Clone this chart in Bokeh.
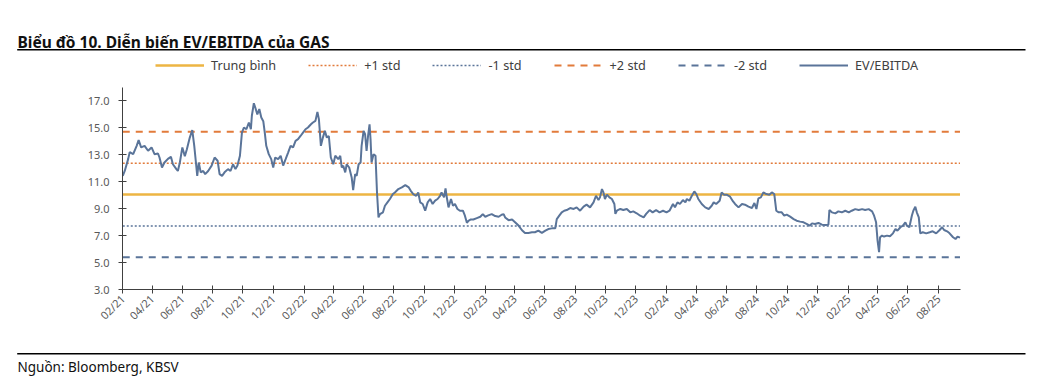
import math
import pandas as pd
from bokeh.plotting import figure
from bokeh.layouts import column
from bokeh.models import (Range1d, FixedTicker, NumeralTickFormatter, DatetimeTickFormatter,
                          Legend, LegendItem, Label, BoxAnnotation, ColumnDataSource)
from bokeh.embed import file_html
from bokeh.resources import INLINE

TITLE = "Biểu đồ 10. Diễn biến EV/EBITDA của GAS"
SOURCE = "Nguồn: Bloomberg, KBSV"

dates = [
    "2021-02-01", "2021-02-05", "2021-02-12", "2021-02-15", "2021-02-22", "2021-03-01", "2021-03-05",
    "2021-03-10", "2021-03-17", "2021-03-24", "2021-03-31", "2021-04-06", "2021-04-13", "2021-04-16",
    "2021-04-21", "2021-04-26", "2021-05-03", "2021-05-09", "2021-05-13", "2021-05-20", "2021-05-23",
    "2021-05-27", "2021-06-01", "2021-06-06", "2021-06-10", "2021-06-16", "2021-06-21", "2021-06-25",
    "2021-06-28", "2021-07-01", "2021-07-04", "2021-07-08", "2021-07-13", "2021-07-17", "2021-07-23",
    "2021-07-30", "2021-08-05", "2021-08-11", "2021-08-15", "2021-08-20", "2021-08-25", "2021-09-01",
    "2021-09-06", "2021-09-11", "2021-09-16", "2021-09-20", "2021-09-25", "2021-09-29", "2021-10-03",
    "2021-10-08", "2021-10-13", "2021-10-17", "2021-10-19", "2021-10-23", "2021-10-26", "2021-10-30",
    "2021-11-03", "2021-11-07", "2021-11-11", "2021-11-14", "2021-11-17", "2021-11-22", "2021-11-27",
    "2021-12-01", "2021-12-05", "2021-12-11", "2021-12-16", "2021-12-21", "2021-12-26", "2021-12-31",
    "2022-01-05", "2022-01-10", "2022-01-15", "2022-01-20", "2022-01-25", "2022-01-30", "2022-02-04",
    "2022-02-09", "2022-02-15", "2022-02-19", "2022-02-24", "2022-02-28", "2022-03-03", "2022-03-07",
    "2022-03-11", "2022-03-15", "2022-03-19", "2022-03-23", "2022-03-27", "2022-04-01", "2022-04-05",
    "2022-04-11", "2022-04-15", "2022-04-18", "2022-04-21", "2022-04-25", "2022-04-28", "2022-05-03",
    "2022-05-08", "2022-05-11", "2022-05-15", "2022-05-18", "2022-05-22", "2022-05-26", "2022-05-28",
    "2022-06-01", "2022-06-04", "2022-06-07", "2022-06-10", "2022-06-13", "2022-06-15", "2022-06-17",
    "2022-06-21", "2022-06-25", "2022-06-28", "2022-07-01", "2022-07-04", "2022-07-10", "2022-07-14",
    "2022-07-19", "2022-07-24", "2022-07-30", "2022-08-03", "2022-08-10", "2022-08-17", "2022-08-24",
    "2022-08-31", "2022-09-04", "2022-09-09", "2022-09-15", "2022-09-19", "2022-09-23", "2022-09-28",
    "2022-10-03", "2022-10-08", "2022-10-13", "2022-10-18", "2022-10-23", "2022-10-28", "2022-11-02",
    "2022-11-05", "2022-11-10", "2022-11-13", "2022-11-15", "2022-11-19", "2022-11-24", "2022-11-28",
    "2022-12-02", "2022-12-07", "2022-12-12", "2022-12-18", "2022-12-22", "2022-12-26", "2022-12-29",
    "2023-01-03", "2023-01-08", "2023-01-15", "2023-01-22", "2023-01-27", "2023-02-01", "2023-02-07",
    "2023-02-14", "2023-02-21", "2023-02-28", "2023-03-06", "2023-03-10", "2023-03-13", "2023-03-20",
    "2023-03-27", "2023-04-02", "2023-04-09", "2023-04-16", "2023-04-22", "2023-04-29", "2023-05-06",
    "2023-05-12", "2023-05-19", "2023-05-26", "2023-06-02", "2023-06-08", "2023-06-15", "2023-06-22",
    "2023-06-25", "2023-06-30", "2023-07-05", "2023-07-10", "2023-07-15", "2023-07-22", "2023-07-29",
    "2023-08-04", "2023-08-11", "2023-08-18", "2023-08-24", "2023-08-31", "2023-09-07", "2023-09-12",
    "2023-09-17", "2023-09-20", "2023-09-24", "2023-09-27", "2023-09-30", "2023-10-04", "2023-10-09",
    "2023-10-14", "2023-10-19", "2023-10-21", "2023-10-24", "2023-10-31", "2023-11-06", "2023-11-13",
    "2023-11-20", "2023-11-26", "2023-12-03", "2023-12-10", "2023-12-17", "2023-12-22", "2023-12-29",
    "2024-01-04", "2024-01-11", "2024-01-18", "2024-01-25", "2024-02-01", "2024-02-07", "2024-02-14",
    "2024-02-18", "2024-02-23", "2024-02-28", "2024-03-05", "2024-03-10", "2024-03-13", "2024-03-18",
    "2024-03-23", "2024-03-28", "2024-04-01", "2024-04-05", "2024-04-12", "2024-04-19", "2024-04-26",
    "2024-05-02", "2024-05-06", "2024-05-11", "2024-05-18", "2024-05-22", "2024-05-27", "2024-06-01",
    "2024-06-08", "2024-06-14", "2024-06-18", "2024-06-25", "2024-07-02", "2024-07-08", "2024-07-15",
    "2024-07-22", "2024-07-27", "2024-07-31", "2024-08-04", "2024-08-09", "2024-08-14", "2024-08-20",
    "2024-08-26", "2024-08-31", "2024-09-05", "2024-09-09", "2024-09-14", "2024-09-20", "2024-09-25",
    "2024-09-30", "2024-10-07", "2024-10-14", "2024-10-20", "2024-10-27", "2024-11-03", "2024-11-10",
    "2024-11-15", "2024-11-20", "2024-11-26", "2024-12-03", "2024-12-10", "2024-12-17", "2024-12-23",
    "2024-12-25", "2024-12-30", "2025-01-06", "2025-01-12", "2025-01-19", "2025-01-26", "2025-02-02",
    "2025-02-08", "2025-02-15", "2025-02-22", "2025-03-01", "2025-03-07", "2025-03-14", "2025-03-21",
    "2025-03-25", "2025-03-29", "2025-04-01", "2025-04-04", "2025-04-06", "2025-04-10", "2025-04-14",
    "2025-04-20", "2025-04-26", "2025-05-02", "2025-05-07", "2025-05-11", "2025-05-17", "2025-05-22",
    "2025-05-27", "2025-05-30", "2025-06-04", "2025-06-09", "2025-06-12", "2025-06-16", "2025-06-19",
    "2025-06-23", "2025-06-26", "2025-07-01", "2025-07-08", "2025-07-15", "2025-07-21", "2025-07-28",
    "2025-08-04", "2025-08-09", "2025-08-13", "2025-08-19", "2025-08-24", "2025-08-31", "2025-09-05",
    "2025-09-09", "2025-09-14",
]

ev_ebitda = [
    11.44, 11.8, 12.7, 13.2, 13.05, 13.67, 14.1,
    13.55, 13.67, 13.3, 13.55, 13.05, 13.1, 12.8,
    12.06, 12.43, 12.7, 12.85, 12.3, 11.94, 11.8,
    12.43, 13.55, 12.9, 13.4, 14.28, 14.83, 13.67,
    12.56, 11.44, 12.43, 11.7, 11.8, 11.57, 11.8,
    12.2, 12.8, 12.56, 11.57, 11.44, 11.7, 11.94,
    11.8, 12.3, 11.94, 12.2, 12.93, 14.65, 15.03,
    14.9, 15.4, 14.9, 15.9, 16.83, 16.5, 16.0,
    16.4, 15.77, 15.5, 14.65, 13.67, 13.05, 12.68,
    12.06, 12.8, 12.68, 12.93, 12.2, 12.68, 13.17,
    13.67, 13.55, 14.04, 14.16, 14.4, 14.65, 14.9,
    15.03, 15.27, 15.4, 15.52, 16.19, 15.64, 13.67,
    14.28, 14.78, 14.28, 14.4, 12.8, 12.3, 12.93,
    12.68, 12.93, 12.06, 12.19, 11.7, 12.3, 12.06,
    11.32, 10.38, 11.57, 11.44, 12.3, 12.43, 13.67,
    14.78, 14.53, 13.3, 14.4, 15.27, 14.16, 12.43,
    13.05, 12.93, 10.2, 8.36, 8.6, 8.73, 9.22,
    9.47, 9.72, 10.09, 10.2, 10.46, 10.58, 10.75,
    10.58, 10.33, 10.09, 9.96, 10.2, 9.47, 9.35,
    8.85, 9.47, 9.72, 9.35, 9.6, 9.72, 9.96,
    10.2, 9.84, 10.5, 9.96, 9.1, 9.72, 9.22,
    9.35, 8.98, 8.85, 8.85, 8.48, 7.95, 8.1,
    8.2, 8.2, 8.3, 8.4, 8.6, 8.4, 8.5,
    8.6, 8.45, 8.4, 8.55, 8.6, 8.35, 8.15,
    8.2, 8.0, 7.75, 7.4, 7.2, 7.2, 7.25,
    7.25, 7.37, 7.2, 7.37, 7.49, 7.54, 7.54,
    8.23, 8.48, 8.73, 8.85, 8.9, 9.05, 8.98,
    9.1, 8.85, 9.15, 9.3, 9.1, 9.47, 9.96,
    9.64, 9.84, 10.46, 10.21, 9.72, 10.04, 9.84,
    9.72, 9.35, 8.61, 8.85, 8.98, 8.9, 8.98,
    8.73, 8.8, 8.66, 8.48, 8.36, 8.61, 8.9,
    8.73, 8.9, 8.73, 8.85, 8.73, 8.85, 9.35,
    9.1, 9.47, 9.35, 9.64, 9.47, 9.72, 9.59,
    9.96, 10.28, 10.09, 9.72, 9.35, 9.1, 8.98,
    9.22, 9.47, 9.35, 9.59, 10.21, 10.04, 10.04,
    9.89, 9.54, 9.35, 9.1, 9.35, 9.3, 9.15,
    9.05, 9.42, 8.98, 9.77, 9.84, 10.21, 10.09,
    10.04, 10.21, 10.09, 8.85, 8.73, 8.73, 8.48,
    8.56, 8.41, 8.23, 8.11, 8.04, 7.99, 7.86,
    7.74, 7.91, 7.86, 7.94, 7.81, 7.79, 7.81,
    8.9, 8.73, 8.65, 8.8, 8.73, 8.85, 8.73,
    8.85, 8.97, 8.9, 8.97, 8.9, 8.97, 8.8,
    8.48, 7.99, 6.63, 5.77, 6.88, 7.0, 6.93,
    7.0, 6.95, 7.17, 7.49, 7.37, 7.62, 7.74,
    7.99, 7.74, 7.62, 8.48, 8.85, 9.15, 8.73,
    8.36, 7.17, 7.25, 7.17, 7.25, 7.32, 7.17,
    7.42, 7.62, 7.42, 7.32, 7.17, 6.88, 6.75,
    6.93, 6.85,
]

level_labels = ["Trung bình", "+1 std", "-1 std", "+2 std", "-2 std"]
level_values = [10.05, 12.38, 7.72, 14.71, 5.39]
series_label = "EV/EBITDA"

y_ticks = [3, 5, 7, 9, 11, 13, 15, 17]
x_tick_dates = pd.date_range("2021-02-01", "2025-08-01", freq="2MS")

GOLD = "#EDB543"
ORANGE = "#E27B3B"
BLUE = "#5A7499"

level_styles = [
    dict(line_color=GOLD, line_width=2.5, line_dash="solid"),
    dict(line_color=ORANGE, line_width=1.5, line_dash="2 2"),
    dict(line_color=BLUE, line_width=1.5, line_dash="2 2"),
    dict(line_color=ORANGE, line_width=2, line_dash="7 6"),
    dict(line_color=BLUE, line_width=2, line_dash="7 6"),
]
series_style = dict(line_color=BLUE, line_width=2)

FONT = "Noto Sans"
W = 1039


def blank_panel(height):
    f = figure(width=W, height=height, output_backend="svg", toolbar_location=None,
               x_range=Range1d(0, W), y_range=Range1d(height, 0),
               x_axis_location=None, y_axis_location=None,
               min_border=0, min_border_left=0, min_border_right=0,
               min_border_top=0, min_border_bottom=0, frame_align=False)
    f.outline_line_color = None
    f.xgrid.visible = False
    f.ygrid.visible = False
    f.background_fill_color = "white"
    f.border_fill_color = "white"
    return f


# ---------- header: title, rule, legend ----------
head = blank_panel(87)
head.add_layout(Label(x=17, y=41.7, text=TITLE, text_font=FONT, text_font_style="bold",
                      text_font_size="15.5px", text_color="#111111", text_baseline="alphabetic"))
head.add_layout(BoxAnnotation(left=16.7, right=1025, top=48.6, bottom=50.1,
                              fill_color="black", fill_alpha=1, line_color=None))
items = []
for lab, st in zip(level_labels + [series_label], level_styles + [series_style]):
    r = head.line(x=[float("nan")], y=[float("nan")], **st)
    items.append(LegendItem(label=lab, renderers=[r]))
legend = Legend(items=items, orientation="horizontal", location=(155, 12),
                spacing=32, glyph_width=49, glyph_height=20, label_standoff=7,
                padding=0, margin=0, border_line_color=None, background_fill_alpha=0,
                label_text_font=FONT, label_text_font_size="12.7px", label_text_color="#404040")
head.add_layout(legend, "center")

# ---------- main chart ----------
p = figure(width=W, height=258, x_axis_type="datetime",
           output_backend="svg", toolbar_location=None,
           x_range=Range1d(pd.Timestamp("2021-01-31 12:00"), pd.Timestamp("2025-09-15")),
           y_range=Range1d(3, 18), frame_align=False,
           min_border_left=122, min_border_right=79, min_border_top=0, min_border_bottom=56)
p.outline_line_color = None
p.xgrid.visible = False
p.ygrid.visible = False
p.background_fill_color = "white"
p.border_fill_color = "white"

date_idx = pd.to_datetime(dates)
src = ColumnDataSource(dict(date=date_idx, v=ev_ebitda))
for val, st in zip(level_values, level_styles):
    p.line(x=[date_idx[0], date_idx[-1]], y=[val, val], **st)
p.line(x="date", y="v", source=src, **series_style)

for ax in (p.xaxis[0], p.yaxis[0]):
    ax.axis_line_color = "#404040"
    ax.axis_line_width = 1
    ax.major_tick_line_color = "#404040"
    ax.major_tick_in = 4
    ax.major_tick_out = 4
    ax.minor_tick_line_color = None
    ax.major_label_text_color = "#595959"
    ax.major_label_text_font = FONT

p.yaxis[0].ticker = FixedTicker(ticks=y_ticks)
p.yaxis[0].formatter = NumeralTickFormatter(format="0.0")
p.yaxis[0].major_label_text_font_size = "11px"
p.yaxis[0].major_label_standoff = 9

p.xaxis[0].ticker = FixedTicker(ticks=[d.value // 10**6 for d in x_tick_dates])
p.xaxis[0].formatter = DatetimeTickFormatter(days="%m/%y", months="%m/%y", years="%m/%y")
p.xaxis[0].major_label_orientation = math.pi / 4
p.xaxis[0].major_label_text_font_size = "11px"
p.xaxis[0].major_label_standoff = 3

# ---------- footer: rule and source ----------
foot = blank_panel(45)
foot.add_layout(BoxAnnotation(left=16.7, right=1025, top=7.6, bottom=9.1,
                              fill_color="black", fill_alpha=1, line_color=None))
foot.add_layout(Label(x=17, y=21.7, text=SOURCE, text_font=FONT, text_font_size="13.5px",
                      text_color="#111111", text_baseline="alphabetic"))

layout = column(head, p, foot, spacing=0)
open("out.html", "w", encoding="utf-8").write(file_html(layout, INLINE))
